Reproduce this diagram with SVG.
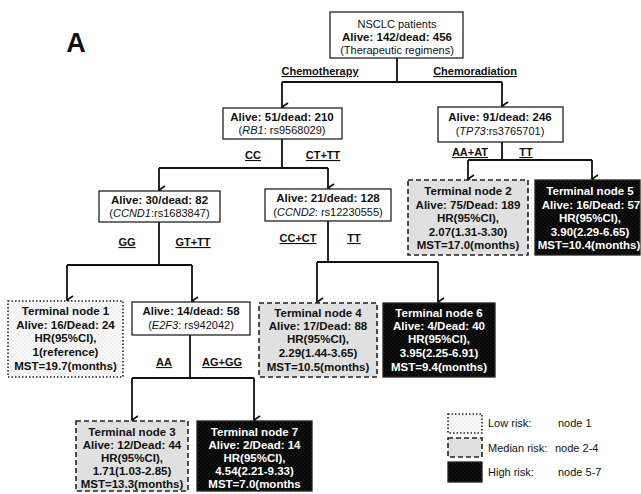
<svg xmlns="http://www.w3.org/2000/svg" width="641" height="494" viewBox="0 0 641 494">
<style>
text{font-family:"Liberation Sans",Arial,sans-serif;font-size:11px;fill:#111;text-anchor:middle}
.b{font-weight:bold;font-size:11.5px}
.u{font-weight:bold;text-decoration:underline}
.w{fill:#fff;font-weight:bold;font-size:11.5px}
.box{fill:#fff;stroke:#222;stroke-width:1.3}
.low{fill:url(#pLow);stroke:#222;stroke-width:1.6;stroke-dasharray:1.5,2}
.med{fill:#e0e0e0;stroke:#222;stroke-width:1.6;stroke-dasharray:5,3}
.high{fill:url(#pHigh);stroke:#222;stroke-width:1.3}
.ln{fill:none;stroke:#111;stroke-width:1.8}
.ar{fill:none;stroke:#111;stroke-width:1.8;marker-end:url(#arr)}
.lg{text-anchor:start}
</style>
<defs>
<pattern id="pLow" width="4" height="4" patternUnits="userSpaceOnUse"><rect width="4" height="4" fill="#fafafa"/><circle cx="1" cy="1" r="0.6" fill="#c8c8c8"/><circle cx="3" cy="3" r="0.6" fill="#c8c8c8"/></pattern>
<pattern id="pHigh" width="4" height="4" patternUnits="userSpaceOnUse"><rect width="4" height="4" fill="#050505"/><circle cx="1" cy="1" r="0.6" fill="#3a3a3a"/><circle cx="3" cy="3" r="0.6" fill="#3a3a3a"/></pattern>
<marker id="arr" markerWidth="10" markerHeight="10" refX="5" refY="8" orient="auto" markerUnits="userSpaceOnUse" viewBox="0 0 10 10"><path d="M1,2 L5,8 L9,2" fill="none" stroke="#111" stroke-width="1.7"/></marker>
</defs>
<text x="76" y="52" style="font-size:27px;font-weight:bold">A</text>

<g id="connectors">
<path class="ln" d="M397,58 V82 M282,82 H502"/>
<path class="ar" d="M282,82 V107"/>
<path class="ar" d="M502,82 V106"/>
<path class="ln" d="M282,139 V168 M159,168 H328"/>
<path class="ar" d="M159,168 V190"/>
<path class="ar" d="M328,168 V188"/>
<path class="ln" d="M159,222 V265 M67,265 H192"/>
<path class="ar" d="M67,265 V300"/>
<path class="ar" d="M192,265 V301"/>
<path class="ln" d="M190,335 V378 M132,378 H254"/>
<path class="ar" d="M132,378 V420"/>
<path class="ar" d="M254,378 V420"/>
<path class="ln" d="M328,221 V262 M317,262 H438"/>
<path class="ar" d="M317,262 V302"/>
<path class="ar" d="M438,262 V302"/>
<path class="ln" d="M502,142 V160 M468,160 H592"/>
<path class="ar" d="M468,160 V179"/>
<path class="ar" d="M592,160 V179"/>
<text class="u" x="320" y="75">Chemotherapy</text>
<text class="u" x="475" y="75">Chemoradiation</text>
<text class="u" x="253" y="159">CC</text>
<text class="u" x="323" y="159">CT+TT</text>
<text class="u" x="127" y="246">GG</text>
<text class="u" x="193" y="246">GT+TT</text>
<text class="u" x="164" y="366">AA</text>
<text class="u" x="222" y="366">AG+GG</text>
<text class="u" x="298" y="242">CC+CT</text>
<text class="u" x="354" y="242">TT</text>
<text class="u" x="470" y="156">AA+AT</text>
<text class="u" x="526" y="156">TT</text>
</g>

<g id="root">
<rect class="box" x="330" y="12" width="133" height="46"/>
<text x="397" y="28">NSCLC patients</text>
<text class="b" x="397" y="41">Alive: 142/dead: 456</text>
<text x="397" y="54">(Therapeutic regimens)</text>
</g>
<g id="rb1">
<rect class="box" x="223" y="108" width="119" height="31"/>
<text class="b" x="282" y="121">Alive: 51/dead: 210</text>
<text x="282" y="134">(<tspan font-style="italic">RB1</tspan>: rs9568029)</text>
</g>
<g id="tp73">
<rect class="box" x="438" y="107" width="125" height="35"/>
<text class="b" x="500" y="121">Alive: 91/dead: 246</text>
<text x="500" y="135">(<tspan font-style="italic">TP73</tspan>:rs3765701)</text>
</g>
<g id="ccnd1">
<rect class="box" x="99" y="191" width="121" height="31"/>
<text class="b" x="159.5" y="204">Alive: 30/dead: 82</text>
<text x="159.5" y="217">(<tspan font-style="italic">CCND1</tspan>:rs1683847)</text>
</g>
<g id="ccnd2">
<rect class="box" x="265" y="189" width="126" height="32"/>
<text class="b" x="328" y="202">Alive: 21/dead: 128</text>
<text x="328" y="216">(<tspan font-style="italic">CCND2</tspan>: rs12230555)</text>
</g>
<g id="e2f3">
<rect class="box" x="132" y="302" width="118" height="33"/>
<text class="b" x="191" y="315">Alive: 14/dead: 58</text>
<text x="191" y="329">(<tspan font-style="italic">E2F3</tspan>: rs942042)</text>
</g>

<g id="t1">
<rect class="low" x="8" y="301" width="115" height="76"/>
<text class="b" x="65.5" y="315">Terminal node 1</text>
<text class="b" x="65.5" y="329">Alive: 16/Dead: 24</text>
<text class="b" x="65.5" y="342">HR(95%CI),</text>
<text class="b" x="65.5" y="356">1(reference)</text>
<text class="b" x="65.5" y="370">MST=19.7(months)</text>
</g>
<g id="t2">
<rect class="med" x="408" y="180" width="120" height="75"/>
<text class="b" x="468" y="195">Terminal node 2</text>
<text class="b" x="468" y="209">Alive: 75/Dead: 189</text>
<text class="b" x="468" y="222">HR(95%CI),</text>
<text class="b" x="468" y="236">2.07(1.31-3.30)</text>
<text class="b" x="468" y="249">MST=17.0(months)</text>
</g>
<g id="t5">
<rect class="high" x="535" y="180" width="105" height="75"/>
<text class="w" x="590" y="195">Terminal node 5</text>
<text class="w" x="591" y="209">Alive: 16/Dead: 57</text>
<text class="w" x="590" y="222">HR(95%CI),</text>
<text class="w" x="590" y="236">3.90(2.29-6.65)</text>
<text class="w" x="589" y="249">MST=10.4(months)</text>
</g>
<g id="t4">
<rect class="med" x="259" y="303" width="118" height="74"/>
<text class="b" x="318" y="317">Terminal node 4</text>
<text class="b" x="318" y="330">Alive: 17/Dead: 88</text>
<text class="b" x="318" y="343">HR(95%CI),</text>
<text class="b" x="318" y="357">2.29(1.44-3.65)</text>
<text class="b" x="318" y="371">MST=10.5(months)</text>
</g>
<g id="t6">
<rect class="high" x="383" y="303" width="112" height="74"/>
<text class="w" x="439" y="317">Terminal node 6</text>
<text class="w" x="439" y="330">Alive: 4/Dead: 40</text>
<text class="w" x="439" y="343">HR(95%CI),</text>
<text class="w" x="439" y="357">3.95(2.25-6.91)</text>
<text class="w" x="439" y="371">MST=9.4(months)</text>
</g>
<g id="t3">
<rect class="med" x="76" y="421" width="112" height="70"/>
<text class="b" x="132" y="436">Terminal node 3</text>
<text class="b" x="132" y="449">Alive: 12/Dead: 44</text>
<text class="b" x="132" y="462">HR(95%CI),</text>
<text class="b" x="132" y="475">1.71(1.03-2.85)</text>
<text class="b" x="132" y="488">MST=13.3(months)</text>
</g>
<g id="t7">
<rect class="high" x="197" y="421" width="115" height="70"/>
<text class="w" x="254.5" y="436">Terminal node 7</text>
<text class="w" x="254.5" y="449">Alive: 2/Dead: 14</text>
<text class="w" x="254.5" y="462">HR(95%CI),</text>
<text class="w" x="254.5" y="475">4.54(2.21-9.33)</text>
<text class="w" x="254.5" y="488">MST=7.0(months</text>
</g>

<g id="legend">
<rect class="low" x="448" y="414" width="34" height="19"/>
<rect class="med" x="448" y="438" width="34" height="19"/>
<rect class="high" x="448" y="462" width="34" height="20"/>
<text class="lg" x="488" y="427">Low risk:</text>
<text class="lg" x="558" y="427">node 1</text>
<text class="lg" x="488" y="452">Median risk:</text>
<text class="lg" x="555" y="452">node 2-4</text>
<text class="lg" x="488" y="476">High risk:</text>
<text class="lg" x="558" y="476">node 5-7</text>
</g>
</svg>
